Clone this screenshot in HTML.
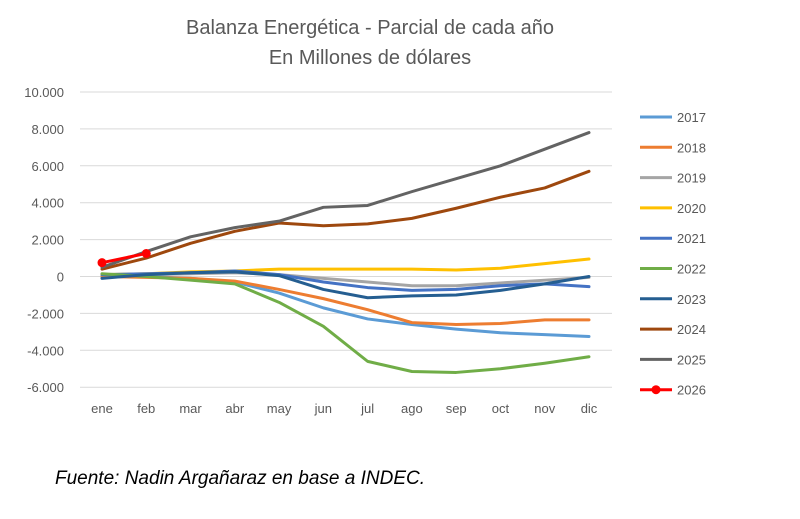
<!DOCTYPE html>
<html><head><meta charset="utf-8"><style>
body{margin:0;background:#fff;width:800px;height:514px;overflow:hidden;font-family:"Liberation Sans",sans-serif}
</style></head><body>
<svg id="chart" width="800" height="514" xmlns="http://www.w3.org/2000/svg">
<text x="370" y="34" text-anchor="middle" font-size="20" fill="#595959">Balanza Energética - Parcial de cada año</text>
<text x="370" y="64" text-anchor="middle" font-size="20" fill="#595959">En Millones de dólares</text>
<g id="grid"></g><g id="series"></g><g id="legend"></g>
<text x="55" y="484" font-size="19" font-style="italic" fill="#000">Fuente: Nadin Argañaraz en base a INDEC.</text>
</svg>
<script>
const months=["ene","feb","mar","abr","may","jun","jul","ago","sep","oct","nov","dic"];
const yTicks=[10000,8000,6000,4000,2000,0,-2000,-4000,-6000];
const yTickLabels=["10.000","8.000","6.000","4.000","2.000","0","-2.000","-4.000","-6.000"];
const years=["2017","2018","2019","2020","2021","2022","2023","2024","2025","2026"];
const colors=["#5b9bd5","#ed7d31","#a5a5a5","#ffc000","#4472c4","#70ad47","#255e91","#9e480e","#636363","#ff0000"];
const v2017=[0,0,-100,-300,-900,-1700,-2300,-2600,-2850,-3050,-3150,-3250];
const v2018=[0,-50,-100,-250,-700,-1200,-1800,-2500,-2600,-2550,-2350,-2350];
const v2019=[100,100,150,200,100,-100,-300,-500,-500,-350,-200,-50];
const v2020=[100,150,250,300,400,400,400,400,350,450,700,950];
const v2021=[100,150,200,300,100,-300,-600,-750,-700,-500,-400,-550];
const v2022=[150,0,-200,-400,-1400,-2700,-4600,-5150,-5200,-5000,-4700,-4350];
const v2023=[-100,100,200,250,50,-700,-1150,-1050,-1000,-750,-400,0];
const v2024=[400,1000,1800,2450,2900,2750,2850,3150,3700,4300,4800,5700];
const v2025=[500,1350,2150,2650,3000,3750,3850,4600,5300,6000,6900,7800];
const v2026=[750,1250];
const seriesData=[v2017,v2018,v2019,v2020,v2021,v2022,v2023,v2024,v2025,v2026];
const NS="http://www.w3.org/2000/svg";
const xS=i=>102+i*(589-102)/11;
const yS=v=>276.5-v*0.01845;
function mk(tag,attrs,parent){const e=document.createElementNS(NS,tag);for(const k in attrs)e.setAttribute(k,attrs[k]);parent.appendChild(e);return e;}
const grid=document.getElementById('grid');
yTicks.forEach((t,i)=>{
  const l=mk('line',{x1:80,x2:612,y1:yS(t),y2:yS(t),stroke:'#d9d9d9','stroke-width':1},grid);
  
  
  const tx=mk('text',{x:64,y:yS(t)+5,'text-anchor':'end','font-size':13,fill:'#595959'},grid);
  tx.textContent=yTickLabels[i];
  
  
});
months.forEach((m,i)=>{
  const tx=mk('text',{x:xS(i),y:413,'text-anchor':'middle','font-size':13,fill:'#595959'},grid);
  tx.textContent=m;
  
  
});
const sg=document.getElementById('series');
seriesData.forEach((d,s)=>{
  const p=mk('polyline',{points:d.map((v,i)=>xS(i)+','+yS(v)).join(' '),fill:'none',stroke:colors[s],'stroke-width':3,'stroke-linejoin':'round','stroke-linecap':'round'},sg);
  
  
  if(years[s]==="2026"){d.forEach((v,i)=>{
    const c=mk('circle',{cx:xS(i),cy:yS(v),r:4.5,fill:colors[s]},sg);
    
    
  });}
});
const lg=document.getElementById('legend');
years.forEach((y,i)=>{
  const yy=117+i*30.3;
  const g=mk('g',{},lg);
  
  
  mk('line',{x1:640,x2:672,y1:yy,y2:yy,stroke:colors[i],'stroke-width':3},g);
  if(y==="2026")mk('circle',{cx:656,cy:yy,r:4.5,fill:colors[i]},g);
  const t=mk('text',{x:677,y:yy+5,'font-size':13,fill:'#595959'},g);
  t.textContent=y;
});
</script>
</body></html>
